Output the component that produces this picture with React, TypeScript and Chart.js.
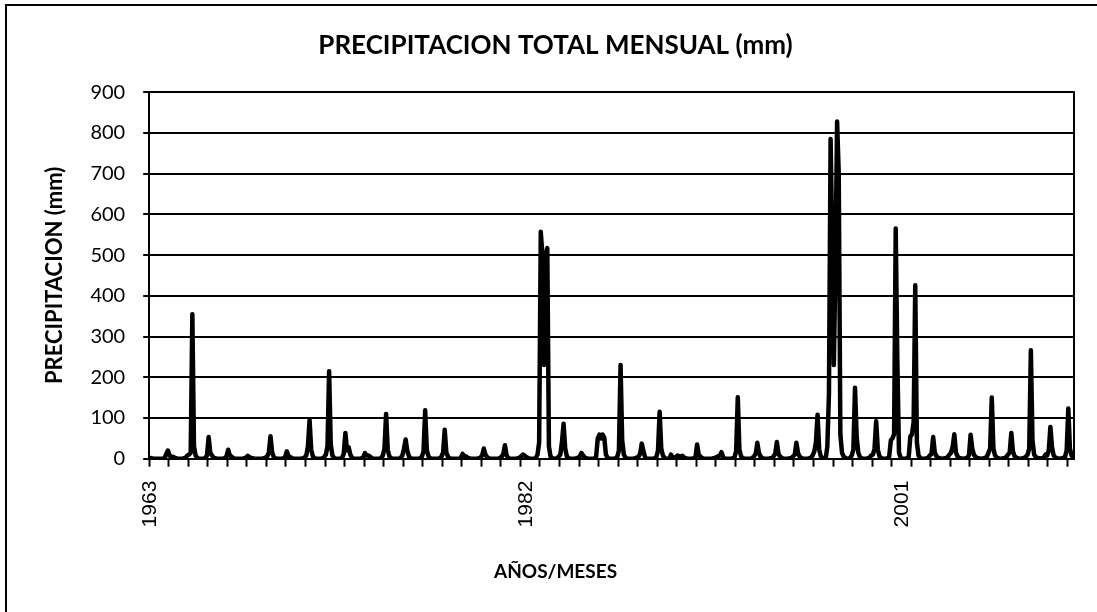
import React, { useEffect, useRef } from 'react';
import { Chart, registerables } from 'chart.js';

Chart.register(...registerables);

// Monthly precipitation (mm), January 1963 onward
const precip1963_1972 = [
  2, 1, 0, 0, 0, 0, 0, 0, 0, 2, 12, 20, // 1963
  8, 4, 5, 3, 1, 0, 0, 0, 0, 1, 3, 8, // 1964
  10, 15, 355, 30, 8, 2, 0, 0, 0, 0, 2, 8, // 1965
  53, 15, 8, 3, 1, 0, 0, 0, 0, 0, 2, 6, // 1966
  22, 8, 5, 2, 0, 0, 0, 0, 0, 0, 1, 3, // 1967
  7, 4, 2, 1, 0, 0, 0, 0, 0, 0, 1, 3, // 1968
  6, 15, 55, 15, 4, 1, 0, 0, 0, 0, 1, 4, // 1969
  18, 7, 4, 2, 0, 0, 0, 0, 0, 0, 1, 3, // 1970
  8, 30, 95, 22, 6, 1, 0, 0, 0, 0, 1, 4, // 1971
  10, 30, 215, 35, 8, 2, 0, 0, 0, 0, 3, 12, // 1972
];
const precip1973_1982 = [
  63, 20, 28, 10, 3, 0, 0, 0, 0, 0, 1, 4, // 1973
  14, 8, 8, 6, 2, 0, 0, 0, 0, 0, 2, 8, // 1974
  25, 110, 22, 6, 1, 0, 0, 0, 0, 0, 2, 8, // 1975
  25, 47, 20, 6, 1, 0, 0, 0, 0, 0, 1, 5, // 1976
  18, 119, 22, 6, 1, 0, 0, 0, 0, 0, 1, 5, // 1977
  15, 71, 15, 5, 1, 0, 0, 0, 0, 0, 0, 3, // 1978
  12, 5, 6, 3, 1, 0, 0, 0, 0, 0, 1, 3, // 1979
  8, 25, 10, 4, 1, 0, 0, 0, 0, 0, 0, 2, // 1980
  5, 12, 33, 8, 2, 0, 0, 0, 0, 0, 1, 3, // 1981
  6, 10, 8, 4, 2, 0, 0, 0, 0, 2, 10, 40, // 1982
];
const precip1983_1992 = [
  557, 500, 230, 500, 517, 30, 5, 2, 0, 0, 1, 5, // 1983
  10, 40, 86, 25, 6, 1, 0, 0, 0, 0, 1, 3, // 1984
  6, 14, 8, 3, 1, 0, 0, 0, 0, 0, 5, 50, // 1985
  59, 50, 59, 52, 10, 2, 0, 0, 0, 0, 1, 5, // 1986
  20, 230, 45, 10, 3, 0, 0, 0, 0, 0, 1, 3, // 1987
  5, 12, 37, 20, 4, 0, 0, 0, 0, 0, 1, 4, // 1988
  20, 115, 25, 8, 2, 0, 0, 0, 10, 3, 1, 4, // 1989
  8, 6, 5, 7, 3, 1, 0, 0, 0, 0, 1, 3, // 1990
  35, 10, 5, 2, 0, 0, 0, 0, 0, 0, 1, 2, // 1991
  4, 6, 8, 16, 4, 0, 0, 0, 0, 0, 1, 4, // 1992
];
const precip1993_2002 = [
  18, 151, 22, 6, 2, 0, 0, 0, 0, 0, 2, 6, // 1993
  12, 39, 14, 5, 2, 0, 0, 0, 0, 1, 2, 6, // 1994
  12, 41, 12, 5, 2, 0, 0, 0, 0, 1, 2, 6, // 1995
  10, 39, 14, 5, 2, 0, 0, 0, 0, 1, 3, 8, // 1996
  18, 40, 108, 22, 6, 1, 0, 0, 30, 160, 785, 540, // 1997
  230, 480, 828, 700, 60, 15, 5, 2, 0, 0, 2, 8, // 1998
  22, 174, 55, 15, 4, 1, 0, 0, 0, 1, 3, 8, // 1999
  10, 25, 92, 22, 6, 2, 0, 0, 0, 1, 5, 45, // 2000
  50, 60, 565, 240, 15, 3, 0, 0, 0, 1, 5, 55, // 2001
  60, 90, 426, 40, 8, 2, 0, 0, 0, 1, 3, 8, // 2002
];
const precip2003_2010 = [
  12, 53, 15, 6, 3, 1, 0, 0, 1, 2, 4, 10, // 2003
  15, 30, 60, 15, 5, 2, 1, 0, 0, 1, 3, 8, // 2004
  59, 25, 10, 4, 2, 1, 0, 0, 1, 2, 5, 15, // 2005
  25, 150, 25, 8, 3, 1, 0, 0, 1, 2, 4, 10, // 2006
  15, 63, 18, 6, 3, 1, 0, 0, 1, 2, 5, 10, // 2007
  25, 266, 45, 10, 4, 2, 1, 0, 1, 3, 10, 8, // 2008
  20, 78, 28, 8, 3, 1, 0, 0, 1, 2, 5, 20, // 2009
  123, 25, 8, 3, // 2010
];

const monthlyPrecip = [
  ...precip1963_1972,
  ...precip1973_1982,
  ...precip1983_1992,
  ...precip1993_2002,
  ...precip2003_2010,
];

// Category labels shown every 231 months
const labelMonths = [0, 231, 462];
const labelTexts = ['1963', '1982', '2001'];
const yTickValues = [0, 100, 200, 300, 400, 500, 600, 700, 800, 900];

const N = monthlyPrecip.length;
const yearBoundaries: number[] = [];
for (let m = 0; m < N; m += 12) yearBoundaries.push(m - 0.5);

const plotFrame = {
  id: 'plotFrame',
  afterDraw(chart: any) {
    const { ctx, chartArea: a } = chart;
    ctx.save();
    ctx.strokeStyle = '#000';
    ctx.lineWidth = 2;
    ctx.beginPath();
    ctx.moveTo(a.right, a.top - 1);
    ctx.lineTo(a.right, a.bottom + 1);
    ctx.stroke();
    ctx.restore();
  },
};

export default function App() {
  const ref = useRef<HTMLCanvasElement>(null);
  useEffect(() => {
    document.documentElement.style.overflow = 'hidden';
    const chart = new Chart(ref.current!, {
      type: 'line',
      data: {
        datasets: [
          {
            data: monthlyPrecip.map((v, i) => ({ x: i, y: v })),
            borderColor: '#000',
            borderWidth: 4.5,
            borderJoinStyle: 'round',
            borderCapStyle: 'round',
            pointRadius: 0,
            fill: false,
            tension: 0,
          },
        ],
      },
      options: {
        responsive: false,
        animation: false,
        layout: { padding: { left: 30, right: 43, top: 0, bottom: 0 } },
        plugins: {
          legend: { display: false },
          tooltip: { enabled: false },
          title: {
            display: true,
            text: 'PRECIPITACION TOTAL MENSUAL (mm)',
            color: '#000',
            font: { family: 'Lato', size: 26, weight: 'bold' },
            padding: { top: 24, bottom: 31 },
          },
          subtitle: {
            display: true,
            position: 'bottom',
            text: 'AÑOS/MESES',
            color: '#000',
            font: { family: 'Lato', size: 19, weight: 'bold' },
            padding: { top: 19.4, bottom: 28.4 },
          },
        },
        scales: {
          x: {
            type: 'linear',
            min: -0.5,
            max: N - 0.5,
            afterBuildTicks: (scale: any) => {
              const vals = [...yearBoundaries, ...labelMonths].sort((a, b) => a - b);
              scale.ticks = vals.map((v) => ({ value: v }));
            },
            ticks: {
              autoSkip: false,
              minRotation: 90,
              maxRotation: 90,
              padding: 14,
              color: '#000',
              font: { family: 'Liberation Sans', size: 21 },
              callback: (value: any) => {
                const i = labelMonths.indexOf(Number(value));
                return i >= 0 ? labelTexts[i] : '';
              },
            },
            grid: {
              drawOnChartArea: false,
              drawTicks: true,
              tickLength: 8,
              tickWidth: 2,
              tickColor: (ctx: any) =>
                ctx.tick && labelMonths.includes(ctx.tick.value) ? 'rgba(0,0,0,0)' : '#000',
            },
            border: { display: true, color: '#000', width: 2 },
          },
          y: {
            min: 0,
            max: 900,
            afterBuildTicks: (scale: any) => {
              scale.ticks = yTickValues.map((v) => ({ value: v }));
            },
            ticks: {
              padding: 18,
              color: '#000',
              font: { family: 'Lato', size: 20 },
            },
            grid: {
              color: '#000',
              lineWidth: 2,
              tickLength: 6,
            },
            border: { display: true, color: '#000', width: 2 },
            title: {
              display: true,
              text: 'PRECIPITACION (mm)',
              color: '#000',
              font: { family: 'Lato', size: 22, weight: 'bold' },
              padding: { top: 5, bottom: 4 },
            },
          },
        },
      },
      plugins: [plotFrame],
    } as any);
    return () => chart.destroy();
  }, []);

  return (
    <div
      style={{
        position: 'fixed',
        left: 5,
        top: 4,
        width: 1200,
        height: 700,
        borderLeft: '2px solid #000',
        borderTop: '2px solid #000',
        background: '#fff',
      }}
    >
      <canvas ref={ref} width={1110} height={606} style={{ display: 'block' }} />
    </div>
  );
}
